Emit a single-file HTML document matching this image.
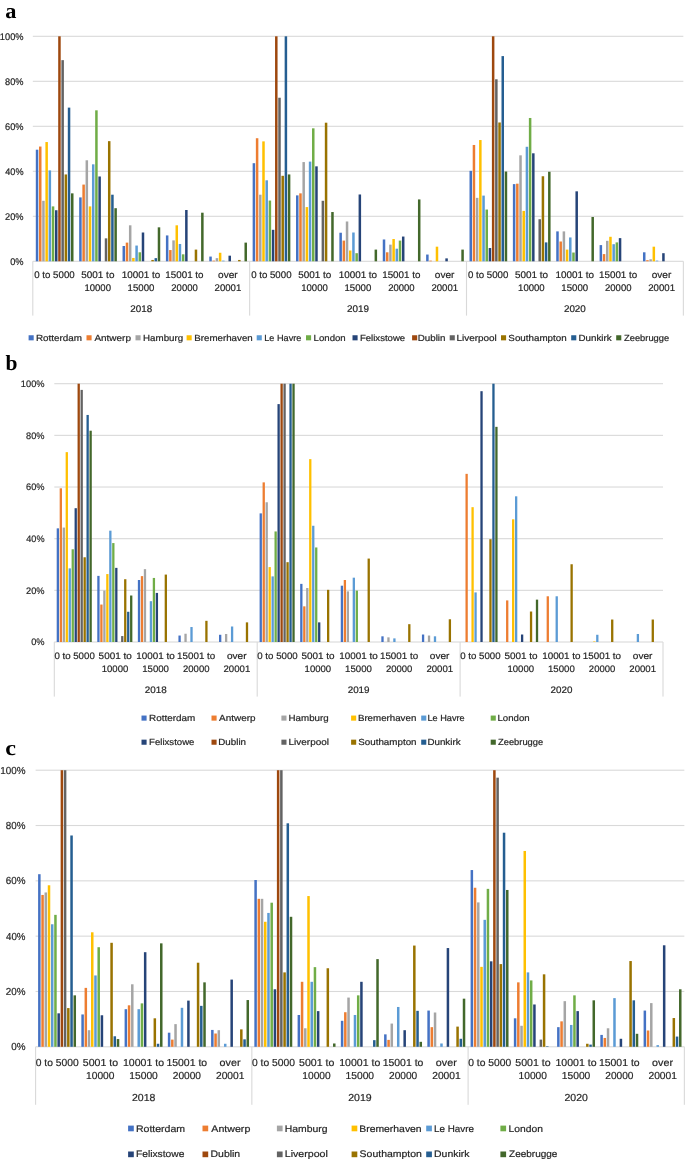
<!DOCTYPE html>
<html><head><meta charset="utf-8"><title>Port size distribution charts</title>
<style>
html,body{margin:0;padding:0;background:#fff;}
body{width:685px;height:1161px;overflow:hidden;font-family:"Liberation Sans",sans-serif;}
svg{display:block;text-rendering:geometricPrecision;transform:translateZ(0);will-change:transform;}
</style></head><body>
<svg width="685" height="1161" viewBox="0 0 685 1161" font-family="Liberation Sans, sans-serif">
<rect width="685" height="1161" fill="#fff"/>
<rect x="32.80" y="260.75" width="650.55" height="1.1" fill="#D9D9D9"/>
<text x="10.14" y="264.75" font-size="9.6" textLength="13.39" lengthAdjust="spacingAndGlyphs" fill="#262626" stroke="#262626" stroke-width="0.2">0%</text>
<rect x="32.80" y="215.75" width="650.55" height="1.1" fill="#D9D9D9"/>
<text x="5.04" y="219.75" font-size="9.6" textLength="18.49" lengthAdjust="spacingAndGlyphs" fill="#262626" stroke="#262626" stroke-width="0.2">20%</text>
<rect x="32.80" y="170.75" width="650.55" height="1.1" fill="#D9D9D9"/>
<text x="5.29" y="174.75" font-size="9.6" textLength="18.23" lengthAdjust="spacingAndGlyphs" fill="#262626" stroke="#262626" stroke-width="0.2">40%</text>
<rect x="32.80" y="125.75" width="650.55" height="1.1" fill="#D9D9D9"/>
<text x="5.03" y="129.75" font-size="9.6" textLength="18.50" lengthAdjust="spacingAndGlyphs" fill="#262626" stroke="#262626" stroke-width="0.2">60%</text>
<rect x="32.80" y="80.75" width="650.55" height="1.1" fill="#D9D9D9"/>
<text x="5.10" y="84.75" font-size="9.6" textLength="18.43" lengthAdjust="spacingAndGlyphs" fill="#262626" stroke="#262626" stroke-width="0.2">80%</text>
<rect x="32.80" y="35.75" width="650.55" height="1.1" fill="#D9D9D9"/>
<text x="-0.16" y="39.75" font-size="9.6" textLength="23.69" lengthAdjust="spacingAndGlyphs" fill="#262626" stroke="#262626" stroke-width="0.2">100%</text>
<rect x="35.80" y="149.70" width="2.5" height="111.60" fill="#4472C4"/>
<rect x="39.00" y="146.55" width="2.5" height="114.75" fill="#ED7D31"/>
<rect x="42.20" y="200.78" width="2.5" height="60.52" fill="#A5A5A5"/>
<rect x="45.40" y="142.05" width="2.5" height="119.25" fill="#FFC000"/>
<rect x="48.60" y="170.40" width="2.5" height="90.90" fill="#5B9BD5"/>
<rect x="51.80" y="206.40" width="2.5" height="54.90" fill="#70AD47"/>
<rect x="55.00" y="210.23" width="2.5" height="51.08" fill="#264478"/>
<rect x="58.20" y="36.30" width="2.5" height="225.00" fill="#9E480E"/>
<rect x="61.40" y="60.15" width="2.5" height="201.15" fill="#636363"/>
<rect x="64.60" y="174.45" width="2.5" height="86.85" fill="#997300"/>
<rect x="67.80" y="107.62" width="2.5" height="153.68" fill="#255E91"/>
<rect x="71.00" y="193.35" width="2.5" height="67.95" fill="#43682B"/>
<rect x="79.17" y="197.40" width="2.5" height="63.90" fill="#4472C4"/>
<rect x="82.37" y="184.58" width="2.5" height="76.72" fill="#ED7D31"/>
<rect x="85.57" y="160.28" width="2.5" height="101.03" fill="#A5A5A5"/>
<rect x="88.77" y="206.40" width="2.5" height="54.90" fill="#FFC000"/>
<rect x="91.97" y="164.33" width="2.5" height="96.97" fill="#5B9BD5"/>
<rect x="95.17" y="110.33" width="2.5" height="150.97" fill="#70AD47"/>
<rect x="98.37" y="176.48" width="2.5" height="84.83" fill="#264478"/>
<rect x="104.77" y="238.35" width="2.5" height="22.95" fill="#636363"/>
<rect x="107.97" y="141.15" width="2.5" height="120.15" fill="#997300"/>
<rect x="111.17" y="194.70" width="2.5" height="66.60" fill="#255E91"/>
<rect x="114.37" y="208.20" width="2.5" height="53.10" fill="#43682B"/>
<rect x="122.54" y="246.00" width="2.5" height="15.30" fill="#4472C4"/>
<rect x="125.74" y="242.62" width="2.5" height="18.68" fill="#ED7D31"/>
<rect x="128.94" y="225.30" width="2.5" height="36.00" fill="#A5A5A5"/>
<rect x="132.14" y="257.93" width="2.5" height="3.38" fill="#FFC000"/>
<rect x="135.34" y="245.55" width="2.5" height="15.75" fill="#5B9BD5"/>
<rect x="138.54" y="252.30" width="2.5" height="9.00" fill="#70AD47"/>
<rect x="141.74" y="232.50" width="2.5" height="28.80" fill="#264478"/>
<rect x="151.34" y="259.95" width="2.5" height="1.35" fill="#997300"/>
<rect x="154.54" y="258.15" width="2.5" height="3.15" fill="#255E91"/>
<rect x="157.74" y="227.33" width="2.5" height="33.98" fill="#43682B"/>
<rect x="165.91" y="235.43" width="2.5" height="25.88" fill="#4472C4"/>
<rect x="169.11" y="250.05" width="2.5" height="11.25" fill="#ED7D31"/>
<rect x="172.31" y="240.38" width="2.5" height="20.93" fill="#A5A5A5"/>
<rect x="175.51" y="225.30" width="2.5" height="36.00" fill="#FFC000"/>
<rect x="178.71" y="243.98" width="2.5" height="17.32" fill="#5B9BD5"/>
<rect x="181.91" y="254.33" width="2.5" height="6.97" fill="#70AD47"/>
<rect x="185.11" y="210.00" width="2.5" height="51.30" fill="#264478"/>
<rect x="194.71" y="249.60" width="2.5" height="11.70" fill="#997300"/>
<rect x="201.11" y="212.70" width="2.5" height="48.60" fill="#43682B"/>
<rect x="209.28" y="256.57" width="2.5" height="4.72" fill="#4472C4"/>
<rect x="212.48" y="260.62" width="2.5" height="0.68" fill="#ED7D31"/>
<rect x="215.68" y="258.15" width="2.5" height="3.15" fill="#A5A5A5"/>
<rect x="218.88" y="252.75" width="2.5" height="8.55" fill="#FFC000"/>
<rect x="222.08" y="260.62" width="2.5" height="0.68" fill="#5B9BD5"/>
<rect x="228.48" y="255.68" width="2.5" height="5.62" fill="#264478"/>
<rect x="238.08" y="259.95" width="2.5" height="1.35" fill="#997300"/>
<rect x="244.48" y="242.62" width="2.5" height="18.68" fill="#43682B"/>
<rect x="252.65" y="163.20" width="2.5" height="98.10" fill="#4472C4"/>
<rect x="255.85" y="138.23" width="2.5" height="123.08" fill="#ED7D31"/>
<rect x="259.05" y="194.70" width="2.5" height="66.60" fill="#A5A5A5"/>
<rect x="262.25" y="141.38" width="2.5" height="119.92" fill="#FFC000"/>
<rect x="265.45" y="180.30" width="2.5" height="81.00" fill="#5B9BD5"/>
<rect x="268.65" y="200.55" width="2.5" height="60.75" fill="#70AD47"/>
<rect x="271.85" y="229.80" width="2.5" height="31.50" fill="#264478"/>
<rect x="275.05" y="36.30" width="2.5" height="225.00" fill="#9E480E"/>
<rect x="278.25" y="97.73" width="2.5" height="163.57" fill="#636363"/>
<rect x="281.45" y="175.80" width="2.5" height="85.50" fill="#997300"/>
<rect x="284.65" y="36.30" width="2.5" height="225.00" fill="#255E91"/>
<rect x="287.85" y="174.45" width="2.5" height="86.85" fill="#43682B"/>
<rect x="296.02" y="195.38" width="2.5" height="65.92" fill="#4472C4"/>
<rect x="299.22" y="193.35" width="2.5" height="67.95" fill="#ED7D31"/>
<rect x="302.42" y="162.08" width="2.5" height="99.22" fill="#A5A5A5"/>
<rect x="305.62" y="207.08" width="2.5" height="54.23" fill="#FFC000"/>
<rect x="308.82" y="161.62" width="2.5" height="99.67" fill="#5B9BD5"/>
<rect x="312.02" y="128.33" width="2.5" height="132.97" fill="#70AD47"/>
<rect x="315.22" y="166.35" width="2.5" height="94.95" fill="#264478"/>
<rect x="321.62" y="200.78" width="2.5" height="60.52" fill="#636363"/>
<rect x="324.82" y="122.70" width="2.5" height="138.60" fill="#997300"/>
<rect x="331.22" y="212.03" width="2.5" height="49.27" fill="#43682B"/>
<rect x="339.39" y="232.73" width="2.5" height="28.57" fill="#4472C4"/>
<rect x="342.59" y="240.60" width="2.5" height="20.70" fill="#ED7D31"/>
<rect x="345.79" y="221.48" width="2.5" height="39.83" fill="#A5A5A5"/>
<rect x="348.99" y="250.50" width="2.5" height="10.80" fill="#FFC000"/>
<rect x="352.19" y="232.50" width="2.5" height="28.80" fill="#5B9BD5"/>
<rect x="355.39" y="253.20" width="2.5" height="8.10" fill="#70AD47"/>
<rect x="358.59" y="194.48" width="2.5" height="66.83" fill="#264478"/>
<rect x="374.59" y="249.60" width="2.5" height="11.70" fill="#43682B"/>
<rect x="382.76" y="239.48" width="2.5" height="21.82" fill="#4472C4"/>
<rect x="385.96" y="252.30" width="2.5" height="9.00" fill="#ED7D31"/>
<rect x="389.16" y="244.65" width="2.5" height="16.65" fill="#A5A5A5"/>
<rect x="392.36" y="239.03" width="2.5" height="22.27" fill="#FFC000"/>
<rect x="395.56" y="248.70" width="2.5" height="12.60" fill="#5B9BD5"/>
<rect x="398.76" y="240.60" width="2.5" height="20.70" fill="#70AD47"/>
<rect x="401.96" y="236.55" width="2.5" height="24.75" fill="#264478"/>
<rect x="417.96" y="199.43" width="2.5" height="61.88" fill="#43682B"/>
<rect x="426.13" y="254.55" width="2.5" height="6.75" fill="#4472C4"/>
<rect x="429.33" y="260.62" width="2.5" height="0.68" fill="#ED7D31"/>
<rect x="435.73" y="246.68" width="2.5" height="14.62" fill="#FFC000"/>
<rect x="445.33" y="258.38" width="2.5" height="2.92" fill="#264478"/>
<rect x="461.33" y="249.60" width="2.5" height="11.70" fill="#43682B"/>
<rect x="469.50" y="170.85" width="2.5" height="90.45" fill="#4472C4"/>
<rect x="472.70" y="144.98" width="2.5" height="116.33" fill="#ED7D31"/>
<rect x="475.90" y="197.85" width="2.5" height="63.45" fill="#A5A5A5"/>
<rect x="479.10" y="140.03" width="2.5" height="121.28" fill="#FFC000"/>
<rect x="482.30" y="195.60" width="2.5" height="65.70" fill="#5B9BD5"/>
<rect x="485.50" y="209.55" width="2.5" height="51.75" fill="#70AD47"/>
<rect x="488.70" y="248.03" width="2.5" height="13.28" fill="#264478"/>
<rect x="491.90" y="36.30" width="2.5" height="225.00" fill="#9E480E"/>
<rect x="495.10" y="79.28" width="2.5" height="182.03" fill="#636363"/>
<rect x="498.30" y="122.48" width="2.5" height="138.82" fill="#997300"/>
<rect x="501.50" y="56.10" width="2.5" height="205.20" fill="#255E91"/>
<rect x="504.70" y="171.53" width="2.5" height="89.78" fill="#43682B"/>
<rect x="512.87" y="184.12" width="2.5" height="77.17" fill="#4472C4"/>
<rect x="516.07" y="183.68" width="2.5" height="77.62" fill="#ED7D31"/>
<rect x="519.27" y="155.33" width="2.5" height="105.97" fill="#A5A5A5"/>
<rect x="522.47" y="210.90" width="2.5" height="50.40" fill="#FFC000"/>
<rect x="525.67" y="146.78" width="2.5" height="114.53" fill="#5B9BD5"/>
<rect x="528.87" y="117.98" width="2.5" height="143.32" fill="#70AD47"/>
<rect x="532.07" y="153.30" width="2.5" height="108.00" fill="#264478"/>
<rect x="538.47" y="219.23" width="2.5" height="42.08" fill="#636363"/>
<rect x="541.67" y="176.25" width="2.5" height="85.05" fill="#997300"/>
<rect x="544.87" y="242.40" width="2.5" height="18.90" fill="#255E91"/>
<rect x="548.07" y="171.75" width="2.5" height="89.55" fill="#43682B"/>
<rect x="556.24" y="231.38" width="2.5" height="29.93" fill="#4472C4"/>
<rect x="559.44" y="241.50" width="2.5" height="19.80" fill="#ED7D31"/>
<rect x="562.64" y="231.38" width="2.5" height="29.93" fill="#A5A5A5"/>
<rect x="565.84" y="249.60" width="2.5" height="11.70" fill="#FFC000"/>
<rect x="569.04" y="237.45" width="2.5" height="23.85" fill="#5B9BD5"/>
<rect x="572.24" y="252.53" width="2.5" height="8.78" fill="#70AD47"/>
<rect x="575.44" y="191.33" width="2.5" height="69.97" fill="#264478"/>
<rect x="591.44" y="216.98" width="2.5" height="44.33" fill="#43682B"/>
<rect x="599.61" y="245.10" width="2.5" height="16.20" fill="#4472C4"/>
<rect x="602.81" y="254.10" width="2.5" height="7.20" fill="#ED7D31"/>
<rect x="606.01" y="240.83" width="2.5" height="20.48" fill="#A5A5A5"/>
<rect x="609.21" y="236.78" width="2.5" height="24.52" fill="#FFC000"/>
<rect x="612.41" y="244.20" width="2.5" height="17.10" fill="#5B9BD5"/>
<rect x="615.61" y="242.40" width="2.5" height="18.90" fill="#70AD47"/>
<rect x="618.81" y="238.12" width="2.5" height="23.18" fill="#264478"/>
<rect x="642.98" y="252.30" width="2.5" height="9.00" fill="#4472C4"/>
<rect x="646.18" y="260.18" width="2.5" height="1.12" fill="#ED7D31"/>
<rect x="649.38" y="259.28" width="2.5" height="2.02" fill="#A5A5A5"/>
<rect x="652.58" y="246.68" width="2.5" height="14.62" fill="#FFC000"/>
<rect x="655.78" y="260.62" width="2.5" height="0.68" fill="#5B9BD5"/>
<rect x="662.18" y="253.20" width="2.5" height="8.10" fill="#264478"/>
<rect x="32.25" y="261.30" width="1.1" height="54.30" fill="#D9D9D9"/>
<rect x="249.10" y="261.30" width="1.1" height="54.30" fill="#D9D9D9"/>
<rect x="465.95" y="261.30" width="1.1" height="54.30" fill="#D9D9D9"/>
<rect x="682.80" y="261.30" width="1.1" height="54.30" fill="#D9D9D9"/>
<text x="34.31" y="278.15" font-size="9.6" textLength="40.36" lengthAdjust="spacingAndGlyphs" fill="#262626" stroke="#262626" stroke-width="0.2">0 to 5000</text>
<text x="81.31" y="278.15" font-size="9.6" textLength="33.11" lengthAdjust="spacingAndGlyphs" fill="#262626" stroke="#262626" stroke-width="0.2">5001 to</text>
<text x="84.38" y="290.90" font-size="9.6" textLength="26.60" lengthAdjust="spacingAndGlyphs" fill="#262626" stroke="#262626" stroke-width="0.2">10000</text>
<text x="121.82" y="278.15" font-size="9.6" textLength="38.47" lengthAdjust="spacingAndGlyphs" fill="#262626" stroke="#262626" stroke-width="0.2">10001 to</text>
<text x="127.64" y="290.90" font-size="9.6" textLength="26.81" lengthAdjust="spacingAndGlyphs" fill="#262626" stroke="#262626" stroke-width="0.2">15000</text>
<text x="165.35" y="278.15" font-size="9.6" textLength="38.16" lengthAdjust="spacingAndGlyphs" fill="#262626" stroke="#262626" stroke-width="0.2">15001 to</text>
<text x="171.32" y="290.90" font-size="9.6" textLength="26.45" lengthAdjust="spacingAndGlyphs" fill="#262626" stroke="#262626" stroke-width="0.2">20000</text>
<text x="218.04" y="278.15" font-size="9.6" textLength="19.59" lengthAdjust="spacingAndGlyphs" fill="#262626" stroke="#262626" stroke-width="0.2">over</text>
<text x="214.58" y="290.90" font-size="9.6" textLength="26.75" lengthAdjust="spacingAndGlyphs" fill="#262626" stroke="#262626" stroke-width="0.2">20001</text>
<text x="251.16" y="278.15" font-size="9.6" textLength="40.36" lengthAdjust="spacingAndGlyphs" fill="#262626" stroke="#262626" stroke-width="0.2">0 to 5000</text>
<text x="298.16" y="278.15" font-size="9.6" textLength="33.11" lengthAdjust="spacingAndGlyphs" fill="#262626" stroke="#262626" stroke-width="0.2">5001 to</text>
<text x="301.23" y="290.90" font-size="9.6" textLength="26.60" lengthAdjust="spacingAndGlyphs" fill="#262626" stroke="#262626" stroke-width="0.2">10000</text>
<text x="338.67" y="278.15" font-size="9.6" textLength="38.47" lengthAdjust="spacingAndGlyphs" fill="#262626" stroke="#262626" stroke-width="0.2">10001 to</text>
<text x="344.49" y="290.90" font-size="9.6" textLength="26.81" lengthAdjust="spacingAndGlyphs" fill="#262626" stroke="#262626" stroke-width="0.2">15000</text>
<text x="382.20" y="278.15" font-size="9.6" textLength="38.16" lengthAdjust="spacingAndGlyphs" fill="#262626" stroke="#262626" stroke-width="0.2">15001 to</text>
<text x="388.17" y="290.90" font-size="9.6" textLength="26.45" lengthAdjust="spacingAndGlyphs" fill="#262626" stroke="#262626" stroke-width="0.2">20000</text>
<text x="434.89" y="278.15" font-size="9.6" textLength="19.59" lengthAdjust="spacingAndGlyphs" fill="#262626" stroke="#262626" stroke-width="0.2">over</text>
<text x="431.43" y="290.90" font-size="9.6" textLength="26.75" lengthAdjust="spacingAndGlyphs" fill="#262626" stroke="#262626" stroke-width="0.2">20001</text>
<text x="468.01" y="278.15" font-size="9.6" textLength="40.36" lengthAdjust="spacingAndGlyphs" fill="#262626" stroke="#262626" stroke-width="0.2">0 to 5000</text>
<text x="515.01" y="278.15" font-size="9.6" textLength="33.11" lengthAdjust="spacingAndGlyphs" fill="#262626" stroke="#262626" stroke-width="0.2">5001 to</text>
<text x="518.08" y="290.90" font-size="9.6" textLength="26.60" lengthAdjust="spacingAndGlyphs" fill="#262626" stroke="#262626" stroke-width="0.2">10000</text>
<text x="555.52" y="278.15" font-size="9.6" textLength="38.47" lengthAdjust="spacingAndGlyphs" fill="#262626" stroke="#262626" stroke-width="0.2">10001 to</text>
<text x="561.34" y="290.90" font-size="9.6" textLength="26.81" lengthAdjust="spacingAndGlyphs" fill="#262626" stroke="#262626" stroke-width="0.2">15000</text>
<text x="599.05" y="278.15" font-size="9.6" textLength="38.16" lengthAdjust="spacingAndGlyphs" fill="#262626" stroke="#262626" stroke-width="0.2">15001 to</text>
<text x="605.02" y="290.90" font-size="9.6" textLength="26.45" lengthAdjust="spacingAndGlyphs" fill="#262626" stroke="#262626" stroke-width="0.2">20000</text>
<text x="651.74" y="278.15" font-size="9.6" textLength="19.59" lengthAdjust="spacingAndGlyphs" fill="#262626" stroke="#262626" stroke-width="0.2">over</text>
<text x="648.28" y="290.90" font-size="9.6" textLength="26.75" lengthAdjust="spacingAndGlyphs" fill="#262626" stroke="#262626" stroke-width="0.2">20001</text>
<text x="130.23" y="311.90" font-size="9.6" textLength="21.92" lengthAdjust="spacingAndGlyphs" fill="#262626" stroke="#262626" stroke-width="0.2">2018</text>
<text x="347.08" y="311.90" font-size="9.6" textLength="21.96" lengthAdjust="spacingAndGlyphs" fill="#262626" stroke="#262626" stroke-width="0.2">2019</text>
<text x="563.93" y="311.90" font-size="9.6" textLength="21.88" lengthAdjust="spacingAndGlyphs" fill="#262626" stroke="#262626" stroke-width="0.2">2020</text>
<rect x="28.60" y="335.25" width="5.1" height="5.1" fill="#4472C4"/>
<text x="35.99" y="340.66" font-size="8.9" textLength="46.06" lengthAdjust="spacingAndGlyphs" fill="#262626" stroke="#262626" stroke-width="0.2">Rotterdam</text>
<rect x="86.50" y="335.25" width="5.1" height="5.1" fill="#ED7D31"/>
<text x="94.48" y="340.66" font-size="8.9" textLength="36.44" lengthAdjust="spacingAndGlyphs" fill="#262626" stroke="#262626" stroke-width="0.2">Antwerp</text>
<rect x="135.50" y="335.25" width="5.1" height="5.1" fill="#A5A5A5"/>
<text x="143.10" y="340.66" font-size="8.9" textLength="40.03" lengthAdjust="spacingAndGlyphs" fill="#262626" stroke="#262626" stroke-width="0.2">Hamburg</text>
<rect x="186.60" y="335.25" width="5.1" height="5.1" fill="#FFC000"/>
<text x="194.30" y="340.66" font-size="8.9" textLength="58.43" lengthAdjust="spacingAndGlyphs" fill="#262626" stroke="#262626" stroke-width="0.2">Bremerhaven</text>
<rect x="256.70" y="335.25" width="5.1" height="5.1" fill="#5B9BD5"/>
<text x="264.15" y="340.66" font-size="8.9" textLength="37.26" lengthAdjust="spacingAndGlyphs" fill="#262626" stroke="#262626" stroke-width="0.2">Le Havre</text>
<rect x="306.00" y="335.25" width="5.1" height="5.1" fill="#70AD47"/>
<text x="313.61" y="340.66" font-size="8.9" textLength="32.11" lengthAdjust="spacingAndGlyphs" fill="#262626" stroke="#262626" stroke-width="0.2">London</text>
<rect x="352.50" y="335.25" width="5.1" height="5.1" fill="#264478"/>
<text x="359.91" y="340.66" font-size="8.9" textLength="45.31" lengthAdjust="spacingAndGlyphs" fill="#262626" stroke="#262626" stroke-width="0.2">Felixstowe</text>
<rect x="412.10" y="335.25" width="5.1" height="5.1" fill="#9E480E"/>
<text x="417.70" y="340.66" font-size="8.9" textLength="27.74" lengthAdjust="spacingAndGlyphs" fill="#262626" stroke="#262626" stroke-width="0.2">Dublin</text>
<rect x="449.70" y="335.25" width="5.1" height="5.1" fill="#636363"/>
<text x="456.48" y="340.66" font-size="8.9" textLength="40.38" lengthAdjust="spacingAndGlyphs" fill="#262626" stroke="#262626" stroke-width="0.2">Liverpool</text>
<rect x="501.00" y="335.25" width="5.1" height="5.1" fill="#997300"/>
<text x="508.36" y="340.66" font-size="8.9" textLength="58.28" lengthAdjust="spacingAndGlyphs" fill="#262626" stroke="#262626" stroke-width="0.2">Southampton</text>
<rect x="571.20" y="335.25" width="5.1" height="5.1" fill="#255E91"/>
<text x="578.50" y="340.66" font-size="8.9" textLength="33.19" lengthAdjust="spacingAndGlyphs" fill="#262626" stroke="#262626" stroke-width="0.2">Dunkirk</text>
<rect x="616.20" y="335.25" width="5.1" height="5.1" fill="#43682B"/>
<text x="624.00" y="340.66" font-size="8.9" textLength="45.21" lengthAdjust="spacingAndGlyphs" fill="#262626" stroke="#262626" stroke-width="0.2">Zeebrugge</text>
<rect x="54.30" y="641.45" width="608.70" height="1.1" fill="#D9D9D9"/>
<text x="31.14" y="645.40" font-size="9.45" textLength="13.39" lengthAdjust="spacingAndGlyphs" fill="#262626" stroke="#262626" stroke-width="0.2">0%</text>
<rect x="54.30" y="589.79" width="608.70" height="1.1" fill="#D9D9D9"/>
<text x="26.04" y="593.74" font-size="9.45" textLength="18.49" lengthAdjust="spacingAndGlyphs" fill="#262626" stroke="#262626" stroke-width="0.2">20%</text>
<rect x="54.30" y="538.13" width="608.70" height="1.1" fill="#D9D9D9"/>
<text x="26.29" y="542.08" font-size="9.45" textLength="18.23" lengthAdjust="spacingAndGlyphs" fill="#262626" stroke="#262626" stroke-width="0.2">40%</text>
<rect x="54.30" y="486.47" width="608.70" height="1.1" fill="#D9D9D9"/>
<text x="26.03" y="490.42" font-size="9.45" textLength="18.50" lengthAdjust="spacingAndGlyphs" fill="#262626" stroke="#262626" stroke-width="0.2">60%</text>
<rect x="54.30" y="434.81" width="608.70" height="1.1" fill="#D9D9D9"/>
<text x="26.10" y="438.76" font-size="9.45" textLength="18.43" lengthAdjust="spacingAndGlyphs" fill="#262626" stroke="#262626" stroke-width="0.2">80%</text>
<rect x="54.30" y="383.15" width="608.70" height="1.1" fill="#D9D9D9"/>
<text x="20.84" y="387.10" font-size="9.45" textLength="23.69" lengthAdjust="spacingAndGlyphs" fill="#262626" stroke="#262626" stroke-width="0.2">100%</text>
<rect x="56.70" y="528.35" width="2.3" height="113.65" fill="#4472C4"/>
<rect x="59.68" y="488.31" width="2.3" height="153.69" fill="#ED7D31"/>
<rect x="62.66" y="527.57" width="2.3" height="114.43" fill="#A5A5A5"/>
<rect x="65.64" y="452.15" width="2.3" height="189.85" fill="#FFC000"/>
<rect x="68.62" y="568.38" width="2.3" height="73.62" fill="#5B9BD5"/>
<rect x="71.60" y="549.27" width="2.3" height="92.73" fill="#70AD47"/>
<rect x="74.58" y="508.20" width="2.3" height="133.80" fill="#264478"/>
<rect x="77.56" y="383.70" width="2.3" height="258.30" fill="#9E480E"/>
<rect x="80.54" y="389.90" width="2.3" height="252.10" fill="#636363"/>
<rect x="83.52" y="557.28" width="2.3" height="84.72" fill="#997300"/>
<rect x="86.50" y="414.95" width="2.3" height="227.05" fill="#255E91"/>
<rect x="89.48" y="430.71" width="2.3" height="211.29" fill="#43682B"/>
<rect x="97.28" y="575.88" width="2.3" height="66.12" fill="#4472C4"/>
<rect x="100.26" y="604.55" width="2.3" height="37.45" fill="#ED7D31"/>
<rect x="103.24" y="590.60" width="2.3" height="51.40" fill="#A5A5A5"/>
<rect x="106.22" y="574.07" width="2.3" height="67.93" fill="#FFC000"/>
<rect x="109.20" y="530.67" width="2.3" height="111.33" fill="#5B9BD5"/>
<rect x="112.18" y="543.07" width="2.3" height="98.93" fill="#70AD47"/>
<rect x="115.16" y="567.87" width="2.3" height="74.13" fill="#264478"/>
<rect x="121.12" y="636.06" width="2.3" height="5.94" fill="#636363"/>
<rect x="124.10" y="579.23" width="2.3" height="62.77" fill="#997300"/>
<rect x="127.08" y="611.78" width="2.3" height="30.22" fill="#255E91"/>
<rect x="130.06" y="595.51" width="2.3" height="46.49" fill="#43682B"/>
<rect x="137.86" y="580.01" width="2.3" height="61.99" fill="#4472C4"/>
<rect x="140.84" y="576.13" width="2.3" height="65.87" fill="#ED7D31"/>
<rect x="143.82" y="569.16" width="2.3" height="72.84" fill="#A5A5A5"/>
<rect x="149.78" y="601.19" width="2.3" height="40.81" fill="#5B9BD5"/>
<rect x="152.76" y="577.94" width="2.3" height="64.06" fill="#70AD47"/>
<rect x="155.74" y="592.92" width="2.3" height="49.08" fill="#264478"/>
<rect x="164.68" y="574.58" width="2.3" height="67.42" fill="#997300"/>
<rect x="178.44" y="635.54" width="2.3" height="6.46" fill="#4472C4"/>
<rect x="184.40" y="633.73" width="2.3" height="8.27" fill="#A5A5A5"/>
<rect x="190.36" y="627.02" width="2.3" height="14.98" fill="#5B9BD5"/>
<rect x="205.26" y="620.82" width="2.3" height="21.18" fill="#997300"/>
<rect x="219.02" y="634.77" width="2.3" height="7.23" fill="#4472C4"/>
<rect x="224.98" y="633.99" width="2.3" height="8.01" fill="#A5A5A5"/>
<rect x="230.94" y="626.50" width="2.3" height="15.50" fill="#5B9BD5"/>
<rect x="245.84" y="622.37" width="2.3" height="19.63" fill="#997300"/>
<rect x="259.60" y="513.37" width="2.3" height="128.63" fill="#4472C4"/>
<rect x="262.58" y="482.37" width="2.3" height="159.63" fill="#ED7D31"/>
<rect x="265.56" y="502.26" width="2.3" height="139.74" fill="#A5A5A5"/>
<rect x="268.54" y="567.09" width="2.3" height="74.91" fill="#FFC000"/>
<rect x="271.52" y="576.39" width="2.3" height="65.61" fill="#5B9BD5"/>
<rect x="274.50" y="531.45" width="2.3" height="110.55" fill="#70AD47"/>
<rect x="277.48" y="404.11" width="2.3" height="237.89" fill="#264478"/>
<rect x="280.46" y="383.70" width="2.3" height="258.30" fill="#9E480E"/>
<rect x="283.44" y="383.70" width="2.3" height="258.30" fill="#636363"/>
<rect x="286.42" y="562.19" width="2.3" height="79.81" fill="#997300"/>
<rect x="289.40" y="383.70" width="2.3" height="258.30" fill="#255E91"/>
<rect x="292.38" y="383.70" width="2.3" height="258.30" fill="#43682B"/>
<rect x="300.18" y="583.88" width="2.3" height="58.12" fill="#4472C4"/>
<rect x="303.16" y="606.35" width="2.3" height="35.65" fill="#ED7D31"/>
<rect x="306.14" y="588.02" width="2.3" height="53.98" fill="#A5A5A5"/>
<rect x="309.12" y="459.12" width="2.3" height="182.88" fill="#FFC000"/>
<rect x="312.10" y="525.76" width="2.3" height="116.23" fill="#5B9BD5"/>
<rect x="315.08" y="547.46" width="2.3" height="94.54" fill="#70AD47"/>
<rect x="318.06" y="622.37" width="2.3" height="19.63" fill="#264478"/>
<rect x="327.00" y="589.82" width="2.3" height="52.18" fill="#997300"/>
<rect x="340.76" y="585.69" width="2.3" height="56.31" fill="#4472C4"/>
<rect x="343.74" y="580.01" width="2.3" height="61.99" fill="#ED7D31"/>
<rect x="346.72" y="591.37" width="2.3" height="50.63" fill="#A5A5A5"/>
<rect x="352.68" y="577.68" width="2.3" height="64.32" fill="#5B9BD5"/>
<rect x="355.66" y="590.60" width="2.3" height="51.40" fill="#70AD47"/>
<rect x="367.58" y="558.57" width="2.3" height="83.43" fill="#997300"/>
<rect x="381.34" y="636.32" width="2.3" height="5.68" fill="#4472C4"/>
<rect x="387.30" y="637.35" width="2.3" height="4.65" fill="#A5A5A5"/>
<rect x="393.26" y="638.38" width="2.3" height="3.62" fill="#5B9BD5"/>
<rect x="408.16" y="624.18" width="2.3" height="17.82" fill="#997300"/>
<rect x="421.92" y="634.51" width="2.3" height="7.49" fill="#4472C4"/>
<rect x="427.88" y="635.54" width="2.3" height="6.46" fill="#A5A5A5"/>
<rect x="433.84" y="636.32" width="2.3" height="5.68" fill="#5B9BD5"/>
<rect x="448.74" y="619.27" width="2.3" height="22.73" fill="#997300"/>
<rect x="465.48" y="473.85" width="2.3" height="168.15" fill="#ED7D31"/>
<rect x="471.44" y="507.17" width="2.3" height="134.83" fill="#FFC000"/>
<rect x="474.42" y="592.41" width="2.3" height="49.59" fill="#5B9BD5"/>
<rect x="480.38" y="391.19" width="2.3" height="250.81" fill="#264478"/>
<rect x="489.32" y="539.20" width="2.3" height="102.80" fill="#997300"/>
<rect x="492.30" y="383.70" width="2.3" height="258.30" fill="#255E91"/>
<rect x="495.28" y="426.84" width="2.3" height="215.16" fill="#43682B"/>
<rect x="506.06" y="600.41" width="2.3" height="41.59" fill="#ED7D31"/>
<rect x="512.02" y="519.31" width="2.3" height="122.69" fill="#FFC000"/>
<rect x="515.00" y="496.32" width="2.3" height="145.68" fill="#5B9BD5"/>
<rect x="520.96" y="634.51" width="2.3" height="7.49" fill="#264478"/>
<rect x="529.90" y="611.52" width="2.3" height="30.48" fill="#997300"/>
<rect x="535.86" y="599.64" width="2.3" height="42.36" fill="#43682B"/>
<rect x="546.64" y="596.28" width="2.3" height="45.72" fill="#ED7D31"/>
<rect x="555.58" y="596.28" width="2.3" height="45.72" fill="#5B9BD5"/>
<rect x="570.48" y="564.25" width="2.3" height="77.75" fill="#997300"/>
<rect x="593.18" y="641.48" width="2.3" height="0.52" fill="#FFC000"/>
<rect x="596.16" y="634.77" width="2.3" height="7.23" fill="#5B9BD5"/>
<rect x="611.06" y="619.53" width="2.3" height="22.47" fill="#997300"/>
<rect x="636.74" y="633.99" width="2.3" height="8.01" fill="#5B9BD5"/>
<rect x="651.64" y="619.53" width="2.3" height="22.47" fill="#997300"/>
<rect x="53.75" y="642.00" width="1.1" height="54.60" fill="#D9D9D9"/>
<rect x="256.65" y="642.00" width="1.1" height="54.60" fill="#D9D9D9"/>
<rect x="459.55" y="642.00" width="1.1" height="54.60" fill="#D9D9D9"/>
<rect x="662.45" y="642.00" width="1.1" height="54.60" fill="#D9D9D9"/>
<text x="54.41" y="658.65" font-size="9.45" textLength="40.36" lengthAdjust="spacingAndGlyphs" fill="#262626" stroke="#262626" stroke-width="0.2">0 to 5000</text>
<text x="98.62" y="658.65" font-size="9.45" textLength="33.11" lengthAdjust="spacingAndGlyphs" fill="#262626" stroke="#262626" stroke-width="0.2">5001 to</text>
<text x="101.69" y="671.50" font-size="9.45" textLength="26.60" lengthAdjust="spacingAndGlyphs" fill="#262626" stroke="#262626" stroke-width="0.2">10000</text>
<text x="136.35" y="658.65" font-size="9.45" textLength="38.47" lengthAdjust="spacingAndGlyphs" fill="#262626" stroke="#262626" stroke-width="0.2">10001 to</text>
<text x="142.17" y="671.50" font-size="9.45" textLength="26.81" lengthAdjust="spacingAndGlyphs" fill="#262626" stroke="#262626" stroke-width="0.2">15000</text>
<text x="177.08" y="658.65" font-size="9.45" textLength="38.16" lengthAdjust="spacingAndGlyphs" fill="#262626" stroke="#262626" stroke-width="0.2">15001 to</text>
<text x="183.05" y="671.50" font-size="9.45" textLength="26.45" lengthAdjust="spacingAndGlyphs" fill="#262626" stroke="#262626" stroke-width="0.2">20000</text>
<text x="226.99" y="658.65" font-size="9.45" textLength="19.59" lengthAdjust="spacingAndGlyphs" fill="#262626" stroke="#262626" stroke-width="0.2">over</text>
<text x="223.53" y="671.50" font-size="9.45" textLength="26.75" lengthAdjust="spacingAndGlyphs" fill="#262626" stroke="#262626" stroke-width="0.2">20001</text>
<text x="257.31" y="658.65" font-size="9.45" textLength="40.36" lengthAdjust="spacingAndGlyphs" fill="#262626" stroke="#262626" stroke-width="0.2">0 to 5000</text>
<text x="301.52" y="658.65" font-size="9.45" textLength="33.11" lengthAdjust="spacingAndGlyphs" fill="#262626" stroke="#262626" stroke-width="0.2">5001 to</text>
<text x="304.59" y="671.50" font-size="9.45" textLength="26.60" lengthAdjust="spacingAndGlyphs" fill="#262626" stroke="#262626" stroke-width="0.2">10000</text>
<text x="339.25" y="658.65" font-size="9.45" textLength="38.47" lengthAdjust="spacingAndGlyphs" fill="#262626" stroke="#262626" stroke-width="0.2">10001 to</text>
<text x="345.07" y="671.50" font-size="9.45" textLength="26.81" lengthAdjust="spacingAndGlyphs" fill="#262626" stroke="#262626" stroke-width="0.2">15000</text>
<text x="379.98" y="658.65" font-size="9.45" textLength="38.16" lengthAdjust="spacingAndGlyphs" fill="#262626" stroke="#262626" stroke-width="0.2">15001 to</text>
<text x="385.95" y="671.50" font-size="9.45" textLength="26.45" lengthAdjust="spacingAndGlyphs" fill="#262626" stroke="#262626" stroke-width="0.2">20000</text>
<text x="429.89" y="658.65" font-size="9.45" textLength="19.59" lengthAdjust="spacingAndGlyphs" fill="#262626" stroke="#262626" stroke-width="0.2">over</text>
<text x="426.43" y="671.50" font-size="9.45" textLength="26.75" lengthAdjust="spacingAndGlyphs" fill="#262626" stroke="#262626" stroke-width="0.2">20001</text>
<text x="460.21" y="658.65" font-size="9.45" textLength="40.36" lengthAdjust="spacingAndGlyphs" fill="#262626" stroke="#262626" stroke-width="0.2">0 to 5000</text>
<text x="504.42" y="658.65" font-size="9.45" textLength="33.11" lengthAdjust="spacingAndGlyphs" fill="#262626" stroke="#262626" stroke-width="0.2">5001 to</text>
<text x="507.49" y="671.50" font-size="9.45" textLength="26.60" lengthAdjust="spacingAndGlyphs" fill="#262626" stroke="#262626" stroke-width="0.2">10000</text>
<text x="542.15" y="658.65" font-size="9.45" textLength="38.47" lengthAdjust="spacingAndGlyphs" fill="#262626" stroke="#262626" stroke-width="0.2">10001 to</text>
<text x="547.97" y="671.50" font-size="9.45" textLength="26.81" lengthAdjust="spacingAndGlyphs" fill="#262626" stroke="#262626" stroke-width="0.2">15000</text>
<text x="582.88" y="658.65" font-size="9.45" textLength="38.16" lengthAdjust="spacingAndGlyphs" fill="#262626" stroke="#262626" stroke-width="0.2">15001 to</text>
<text x="588.85" y="671.50" font-size="9.45" textLength="26.45" lengthAdjust="spacingAndGlyphs" fill="#262626" stroke="#262626" stroke-width="0.2">20000</text>
<text x="632.79" y="658.65" font-size="9.45" textLength="19.59" lengthAdjust="spacingAndGlyphs" fill="#262626" stroke="#262626" stroke-width="0.2">over</text>
<text x="629.33" y="671.50" font-size="9.45" textLength="26.75" lengthAdjust="spacingAndGlyphs" fill="#262626" stroke="#262626" stroke-width="0.2">20001</text>
<text x="144.75" y="692.55" font-size="9.45" textLength="21.92" lengthAdjust="spacingAndGlyphs" fill="#262626" stroke="#262626" stroke-width="0.2">2018</text>
<text x="347.65" y="692.55" font-size="9.45" textLength="21.96" lengthAdjust="spacingAndGlyphs" fill="#262626" stroke="#262626" stroke-width="0.2">2019</text>
<text x="550.56" y="692.55" font-size="9.45" textLength="21.88" lengthAdjust="spacingAndGlyphs" fill="#262626" stroke="#262626" stroke-width="0.2">2020</text>
<rect x="141.50" y="715.55" width="5.1" height="5.1" fill="#4472C4"/>
<text x="149.09" y="720.96" font-size="8.9" textLength="46.06" lengthAdjust="spacingAndGlyphs" fill="#262626" stroke="#262626" stroke-width="0.2">Rotterdam</text>
<rect x="211.50" y="715.55" width="5.1" height="5.1" fill="#ED7D31"/>
<text x="219.08" y="720.96" font-size="8.9" textLength="36.44" lengthAdjust="spacingAndGlyphs" fill="#262626" stroke="#262626" stroke-width="0.2">Antwerp</text>
<rect x="281.40" y="715.55" width="5.1" height="5.1" fill="#A5A5A5"/>
<text x="288.60" y="720.96" font-size="8.9" textLength="40.03" lengthAdjust="spacingAndGlyphs" fill="#262626" stroke="#262626" stroke-width="0.2">Hamburg</text>
<rect x="351.10" y="715.55" width="5.1" height="5.1" fill="#FFC000"/>
<text x="357.90" y="720.96" font-size="8.9" textLength="58.43" lengthAdjust="spacingAndGlyphs" fill="#262626" stroke="#262626" stroke-width="0.2">Bremerhaven</text>
<rect x="421.20" y="715.55" width="5.1" height="5.1" fill="#5B9BD5"/>
<text x="427.45" y="720.96" font-size="8.9" textLength="37.26" lengthAdjust="spacingAndGlyphs" fill="#262626" stroke="#262626" stroke-width="0.2">Le Havre</text>
<rect x="490.70" y="715.55" width="5.1" height="5.1" fill="#70AD47"/>
<text x="497.51" y="720.96" font-size="8.9" textLength="32.11" lengthAdjust="spacingAndGlyphs" fill="#262626" stroke="#262626" stroke-width="0.2">London</text>
<rect x="141.50" y="739.65" width="5.1" height="5.1" fill="#264478"/>
<text x="149.11" y="745.06" font-size="8.9" textLength="45.31" lengthAdjust="spacingAndGlyphs" fill="#262626" stroke="#262626" stroke-width="0.2">Felixstowe</text>
<rect x="211.50" y="739.65" width="5.1" height="5.1" fill="#9E480E"/>
<text x="218.30" y="745.06" font-size="8.9" textLength="27.74" lengthAdjust="spacingAndGlyphs" fill="#262626" stroke="#262626" stroke-width="0.2">Dublin</text>
<rect x="281.40" y="739.65" width="5.1" height="5.1" fill="#636363"/>
<text x="288.58" y="745.06" font-size="8.9" textLength="40.38" lengthAdjust="spacingAndGlyphs" fill="#262626" stroke="#262626" stroke-width="0.2">Liverpool</text>
<rect x="351.10" y="739.65" width="5.1" height="5.1" fill="#997300"/>
<text x="358.26" y="745.06" font-size="8.9" textLength="58.28" lengthAdjust="spacingAndGlyphs" fill="#262626" stroke="#262626" stroke-width="0.2">Southampton</text>
<rect x="421.20" y="739.65" width="5.1" height="5.1" fill="#255E91"/>
<text x="427.40" y="745.06" font-size="8.9" textLength="33.19" lengthAdjust="spacingAndGlyphs" fill="#262626" stroke="#262626" stroke-width="0.2">Dunkirk</text>
<rect x="490.70" y="739.65" width="5.1" height="5.1" fill="#43682B"/>
<text x="498.00" y="745.06" font-size="8.9" textLength="45.21" lengthAdjust="spacingAndGlyphs" fill="#262626" stroke="#262626" stroke-width="0.2">Zeebrugge</text>
<rect x="35.60" y="1046.25" width="648.75" height="1.1" fill="#D9D9D9"/>
<text x="11.15" y="1050.21" font-size="10.2" textLength="14.30" lengthAdjust="spacingAndGlyphs" fill="#262626" stroke="#262626" stroke-width="0.2">0%</text>
<rect x="35.60" y="990.93" width="648.75" height="1.1" fill="#D9D9D9"/>
<text x="5.70" y="994.89" font-size="10.2" textLength="19.75" lengthAdjust="spacingAndGlyphs" fill="#262626" stroke="#262626" stroke-width="0.2">20%</text>
<rect x="35.60" y="935.61" width="648.75" height="1.1" fill="#D9D9D9"/>
<text x="5.97" y="939.57" font-size="10.2" textLength="19.47" lengthAdjust="spacingAndGlyphs" fill="#262626" stroke="#262626" stroke-width="0.2">40%</text>
<rect x="35.60" y="880.29" width="648.75" height="1.1" fill="#D9D9D9"/>
<text x="5.70" y="884.25" font-size="10.2" textLength="19.76" lengthAdjust="spacingAndGlyphs" fill="#262626" stroke="#262626" stroke-width="0.2">60%</text>
<rect x="35.60" y="824.97" width="648.75" height="1.1" fill="#D9D9D9"/>
<text x="5.77" y="828.93" font-size="10.2" textLength="19.68" lengthAdjust="spacingAndGlyphs" fill="#262626" stroke="#262626" stroke-width="0.2">80%</text>
<rect x="35.60" y="769.65" width="648.75" height="1.1" fill="#D9D9D9"/>
<text x="0.16" y="773.61" font-size="10.2" textLength="25.30" lengthAdjust="spacingAndGlyphs" fill="#262626" stroke="#262626" stroke-width="0.2">100%</text>
<rect x="38.10" y="874.20" width="2.5" height="172.60" fill="#4472C4"/>
<rect x="41.32" y="894.95" width="2.5" height="151.85" fill="#ED7D31"/>
<rect x="44.54" y="892.46" width="2.5" height="154.34" fill="#A5A5A5"/>
<rect x="47.76" y="885.27" width="2.5" height="161.53" fill="#FFC000"/>
<rect x="50.98" y="924.27" width="2.5" height="122.53" fill="#5B9BD5"/>
<rect x="54.20" y="914.86" width="2.5" height="131.94" fill="#70AD47"/>
<rect x="57.42" y="1013.33" width="2.5" height="33.47" fill="#264478"/>
<rect x="60.64" y="770.20" width="2.5" height="276.60" fill="#9E480E"/>
<rect x="63.86" y="770.20" width="2.5" height="276.60" fill="#636363"/>
<rect x="67.08" y="1008.08" width="2.5" height="38.72" fill="#997300"/>
<rect x="70.30" y="835.48" width="2.5" height="211.32" fill="#255E91"/>
<rect x="73.52" y="995.35" width="2.5" height="51.45" fill="#43682B"/>
<rect x="81.35" y="1014.44" width="2.5" height="32.36" fill="#4472C4"/>
<rect x="84.57" y="987.88" width="2.5" height="58.92" fill="#ED7D31"/>
<rect x="87.79" y="1030.20" width="2.5" height="16.60" fill="#A5A5A5"/>
<rect x="91.01" y="932.29" width="2.5" height="114.51" fill="#FFC000"/>
<rect x="94.23" y="975.44" width="2.5" height="71.36" fill="#5B9BD5"/>
<rect x="97.45" y="947.22" width="2.5" height="99.58" fill="#70AD47"/>
<rect x="100.67" y="1015.27" width="2.5" height="31.53" fill="#264478"/>
<rect x="110.33" y="942.80" width="2.5" height="104.00" fill="#997300"/>
<rect x="113.55" y="1036.29" width="2.5" height="10.51" fill="#255E91"/>
<rect x="116.77" y="1039.06" width="2.5" height="7.74" fill="#43682B"/>
<rect x="124.60" y="1009.18" width="2.5" height="37.62" fill="#4472C4"/>
<rect x="127.82" y="1005.31" width="2.5" height="41.49" fill="#ED7D31"/>
<rect x="131.04" y="984.29" width="2.5" height="62.51" fill="#A5A5A5"/>
<rect x="137.48" y="1009.18" width="2.5" height="37.62" fill="#5B9BD5"/>
<rect x="140.70" y="1003.37" width="2.5" height="43.43" fill="#70AD47"/>
<rect x="143.92" y="952.20" width="2.5" height="94.60" fill="#264478"/>
<rect x="153.58" y="1018.31" width="2.5" height="28.49" fill="#997300"/>
<rect x="156.80" y="1043.76" width="2.5" height="3.04" fill="#255E91"/>
<rect x="160.02" y="943.35" width="2.5" height="103.45" fill="#43682B"/>
<rect x="167.85" y="1032.69" width="2.5" height="14.11" fill="#4472C4"/>
<rect x="171.07" y="1039.61" width="2.5" height="7.19" fill="#ED7D31"/>
<rect x="174.29" y="1024.12" width="2.5" height="22.68" fill="#A5A5A5"/>
<rect x="180.73" y="1007.80" width="2.5" height="39.00" fill="#5B9BD5"/>
<rect x="187.17" y="1000.61" width="2.5" height="46.19" fill="#264478"/>
<rect x="196.83" y="962.71" width="2.5" height="84.09" fill="#997300"/>
<rect x="200.05" y="1005.86" width="2.5" height="40.94" fill="#255E91"/>
<rect x="203.27" y="982.35" width="2.5" height="64.45" fill="#43682B"/>
<rect x="211.10" y="1029.93" width="2.5" height="16.87" fill="#4472C4"/>
<rect x="214.32" y="1033.52" width="2.5" height="13.28" fill="#ED7D31"/>
<rect x="217.54" y="1030.20" width="2.5" height="16.60" fill="#A5A5A5"/>
<rect x="223.98" y="1043.76" width="2.5" height="3.04" fill="#5B9BD5"/>
<rect x="230.42" y="979.59" width="2.5" height="67.21" fill="#264478"/>
<rect x="240.08" y="1029.37" width="2.5" height="17.43" fill="#997300"/>
<rect x="243.30" y="1039.33" width="2.5" height="7.47" fill="#255E91"/>
<rect x="246.52" y="1000.05" width="2.5" height="46.75" fill="#43682B"/>
<rect x="254.35" y="880.01" width="2.5" height="166.79" fill="#4472C4"/>
<rect x="257.57" y="898.82" width="2.5" height="147.98" fill="#ED7D31"/>
<rect x="260.79" y="898.82" width="2.5" height="147.98" fill="#A5A5A5"/>
<rect x="264.01" y="921.78" width="2.5" height="125.02" fill="#FFC000"/>
<rect x="267.23" y="912.93" width="2.5" height="133.87" fill="#5B9BD5"/>
<rect x="270.45" y="902.69" width="2.5" height="144.11" fill="#70AD47"/>
<rect x="273.67" y="989.27" width="2.5" height="57.53" fill="#264478"/>
<rect x="276.89" y="770.20" width="2.5" height="276.60" fill="#9E480E"/>
<rect x="280.11" y="770.20" width="2.5" height="276.60" fill="#636363"/>
<rect x="283.33" y="972.39" width="2.5" height="74.41" fill="#997300"/>
<rect x="286.55" y="823.31" width="2.5" height="223.49" fill="#255E91"/>
<rect x="289.77" y="916.80" width="2.5" height="130.00" fill="#43682B"/>
<rect x="297.60" y="1014.99" width="2.5" height="31.81" fill="#4472C4"/>
<rect x="300.82" y="981.80" width="2.5" height="65.00" fill="#ED7D31"/>
<rect x="304.04" y="1028.27" width="2.5" height="18.53" fill="#A5A5A5"/>
<rect x="307.26" y="896.05" width="2.5" height="150.75" fill="#FFC000"/>
<rect x="310.48" y="981.80" width="2.5" height="65.00" fill="#5B9BD5"/>
<rect x="313.70" y="967.14" width="2.5" height="79.66" fill="#70AD47"/>
<rect x="316.92" y="1011.12" width="2.5" height="35.68" fill="#264478"/>
<rect x="326.58" y="968.25" width="2.5" height="78.55" fill="#997300"/>
<rect x="333.02" y="1043.48" width="2.5" height="3.32" fill="#43682B"/>
<rect x="340.85" y="1020.80" width="2.5" height="26.00" fill="#4472C4"/>
<rect x="344.07" y="1012.22" width="2.5" height="34.57" fill="#ED7D31"/>
<rect x="347.29" y="997.57" width="2.5" height="49.23" fill="#A5A5A5"/>
<rect x="353.73" y="1014.99" width="2.5" height="31.81" fill="#5B9BD5"/>
<rect x="356.95" y="995.35" width="2.5" height="51.45" fill="#70AD47"/>
<rect x="360.17" y="981.80" width="2.5" height="65.00" fill="#264478"/>
<rect x="373.05" y="1040.16" width="2.5" height="6.64" fill="#255E91"/>
<rect x="376.27" y="959.12" width="2.5" height="87.68" fill="#43682B"/>
<rect x="384.10" y="1034.35" width="2.5" height="12.45" fill="#4472C4"/>
<rect x="387.32" y="1039.88" width="2.5" height="6.91" fill="#ED7D31"/>
<rect x="390.54" y="1023.57" width="2.5" height="23.23" fill="#A5A5A5"/>
<rect x="396.98" y="1006.97" width="2.5" height="39.83" fill="#5B9BD5"/>
<rect x="403.42" y="1030.20" width="2.5" height="16.60" fill="#264478"/>
<rect x="413.08" y="945.56" width="2.5" height="101.24" fill="#997300"/>
<rect x="416.30" y="1010.84" width="2.5" height="35.96" fill="#255E91"/>
<rect x="419.52" y="1041.82" width="2.5" height="4.98" fill="#43682B"/>
<rect x="427.35" y="1010.57" width="2.5" height="36.23" fill="#4472C4"/>
<rect x="430.57" y="1027.16" width="2.5" height="19.64" fill="#ED7D31"/>
<rect x="433.79" y="1012.50" width="2.5" height="34.30" fill="#A5A5A5"/>
<rect x="440.23" y="1043.48" width="2.5" height="3.32" fill="#5B9BD5"/>
<rect x="446.67" y="948.05" width="2.5" height="98.75" fill="#264478"/>
<rect x="456.33" y="1026.61" width="2.5" height="20.19" fill="#997300"/>
<rect x="459.55" y="1038.78" width="2.5" height="8.02" fill="#255E91"/>
<rect x="462.77" y="998.67" width="2.5" height="48.13" fill="#43682B"/>
<rect x="470.60" y="870.05" width="2.5" height="176.75" fill="#4472C4"/>
<rect x="473.82" y="887.75" width="2.5" height="159.04" fill="#ED7D31"/>
<rect x="477.04" y="902.41" width="2.5" height="144.39" fill="#A5A5A5"/>
<rect x="480.26" y="966.86" width="2.5" height="79.94" fill="#FFC000"/>
<rect x="483.48" y="919.84" width="2.5" height="126.96" fill="#5B9BD5"/>
<rect x="486.70" y="888.86" width="2.5" height="157.94" fill="#70AD47"/>
<rect x="489.92" y="961.33" width="2.5" height="85.47" fill="#264478"/>
<rect x="493.14" y="770.20" width="2.5" height="276.60" fill="#9E480E"/>
<rect x="496.36" y="777.67" width="2.5" height="269.13" fill="#636363"/>
<rect x="499.58" y="964.10" width="2.5" height="82.70" fill="#997300"/>
<rect x="502.80" y="832.71" width="2.5" height="214.09" fill="#255E91"/>
<rect x="506.02" y="889.97" width="2.5" height="156.83" fill="#43682B"/>
<rect x="513.85" y="1018.31" width="2.5" height="28.49" fill="#4472C4"/>
<rect x="517.07" y="982.35" width="2.5" height="64.45" fill="#ED7D31"/>
<rect x="520.29" y="1025.78" width="2.5" height="21.02" fill="#A5A5A5"/>
<rect x="523.51" y="850.97" width="2.5" height="195.83" fill="#FFC000"/>
<rect x="526.73" y="972.39" width="2.5" height="74.41" fill="#5B9BD5"/>
<rect x="529.95" y="980.42" width="2.5" height="66.38" fill="#70AD47"/>
<rect x="533.17" y="1004.48" width="2.5" height="42.32" fill="#264478"/>
<rect x="539.61" y="1039.61" width="2.5" height="7.19" fill="#636363"/>
<rect x="542.83" y="974.33" width="2.5" height="72.47" fill="#997300"/>
<rect x="546.05" y="1046.25" width="2.5" height="0.55" fill="#255E91"/>
<rect x="557.10" y="1027.16" width="2.5" height="19.64" fill="#4472C4"/>
<rect x="560.32" y="1021.35" width="2.5" height="25.45" fill="#ED7D31"/>
<rect x="563.54" y="1001.16" width="2.5" height="45.64" fill="#A5A5A5"/>
<rect x="569.98" y="1024.95" width="2.5" height="21.85" fill="#5B9BD5"/>
<rect x="573.20" y="995.35" width="2.5" height="51.45" fill="#70AD47"/>
<rect x="576.42" y="1011.12" width="2.5" height="35.68" fill="#264478"/>
<rect x="586.08" y="1043.76" width="2.5" height="3.04" fill="#997300"/>
<rect x="589.30" y="1044.59" width="2.5" height="2.21" fill="#255E91"/>
<rect x="592.52" y="1000.33" width="2.5" height="46.47" fill="#43682B"/>
<rect x="600.35" y="1034.91" width="2.5" height="11.89" fill="#4472C4"/>
<rect x="603.57" y="1037.95" width="2.5" height="8.85" fill="#ED7D31"/>
<rect x="606.79" y="1028.27" width="2.5" height="18.53" fill="#A5A5A5"/>
<rect x="613.23" y="998.12" width="2.5" height="48.68" fill="#5B9BD5"/>
<rect x="619.67" y="1038.78" width="2.5" height="8.02" fill="#264478"/>
<rect x="629.33" y="961.05" width="2.5" height="85.75" fill="#997300"/>
<rect x="632.55" y="1000.33" width="2.5" height="46.47" fill="#255E91"/>
<rect x="635.77" y="1033.80" width="2.5" height="13.00" fill="#43682B"/>
<rect x="643.60" y="1010.57" width="2.5" height="36.23" fill="#4472C4"/>
<rect x="646.82" y="1030.48" width="2.5" height="16.32" fill="#ED7D31"/>
<rect x="650.04" y="1003.10" width="2.5" height="43.70" fill="#A5A5A5"/>
<rect x="656.48" y="1045.14" width="2.5" height="1.66" fill="#5B9BD5"/>
<rect x="662.92" y="945.29" width="2.5" height="101.51" fill="#264478"/>
<rect x="672.58" y="1018.03" width="2.5" height="28.77" fill="#997300"/>
<rect x="675.80" y="1036.57" width="2.5" height="10.23" fill="#255E91"/>
<rect x="679.02" y="989.27" width="2.5" height="57.53" fill="#43682B"/>
<rect x="35.05" y="1046.80" width="1.1" height="58.00" fill="#D9D9D9"/>
<rect x="251.30" y="1046.80" width="1.1" height="58.00" fill="#D9D9D9"/>
<rect x="467.55" y="1046.80" width="1.1" height="58.00" fill="#D9D9D9"/>
<rect x="683.80" y="1046.80" width="1.1" height="58.00" fill="#D9D9D9"/>
<text x="35.67" y="1065.56" font-size="10.2" textLength="43.10" lengthAdjust="spacingAndGlyphs" fill="#262626" stroke="#262626" stroke-width="0.2">0 to 5000</text>
<text x="82.80" y="1065.56" font-size="10.2" textLength="35.37" lengthAdjust="spacingAndGlyphs" fill="#262626" stroke="#262626" stroke-width="0.2">5001 to</text>
<text x="86.08" y="1078.71" font-size="10.2" textLength="28.41" lengthAdjust="spacingAndGlyphs" fill="#262626" stroke="#262626" stroke-width="0.2">10000</text>
<text x="123.00" y="1065.56" font-size="10.2" textLength="41.08" lengthAdjust="spacingAndGlyphs" fill="#262626" stroke="#262626" stroke-width="0.2">10001 to</text>
<text x="129.22" y="1078.71" font-size="10.2" textLength="28.63" lengthAdjust="spacingAndGlyphs" fill="#262626" stroke="#262626" stroke-width="0.2">15000</text>
<text x="166.42" y="1065.56" font-size="10.2" textLength="40.75" lengthAdjust="spacingAndGlyphs" fill="#262626" stroke="#262626" stroke-width="0.2">15001 to</text>
<text x="172.79" y="1078.71" font-size="10.2" textLength="28.25" lengthAdjust="spacingAndGlyphs" fill="#262626" stroke="#262626" stroke-width="0.2">20000</text>
<text x="219.63" y="1065.56" font-size="10.2" textLength="20.92" lengthAdjust="spacingAndGlyphs" fill="#262626" stroke="#262626" stroke-width="0.2">over</text>
<text x="215.93" y="1078.71" font-size="10.2" textLength="28.57" lengthAdjust="spacingAndGlyphs" fill="#262626" stroke="#262626" stroke-width="0.2">20001</text>
<text x="251.92" y="1065.56" font-size="10.2" textLength="43.10" lengthAdjust="spacingAndGlyphs" fill="#262626" stroke="#262626" stroke-width="0.2">0 to 5000</text>
<text x="299.05" y="1065.56" font-size="10.2" textLength="35.37" lengthAdjust="spacingAndGlyphs" fill="#262626" stroke="#262626" stroke-width="0.2">5001 to</text>
<text x="302.33" y="1078.71" font-size="10.2" textLength="28.41" lengthAdjust="spacingAndGlyphs" fill="#262626" stroke="#262626" stroke-width="0.2">10000</text>
<text x="339.25" y="1065.56" font-size="10.2" textLength="41.08" lengthAdjust="spacingAndGlyphs" fill="#262626" stroke="#262626" stroke-width="0.2">10001 to</text>
<text x="345.47" y="1078.71" font-size="10.2" textLength="28.63" lengthAdjust="spacingAndGlyphs" fill="#262626" stroke="#262626" stroke-width="0.2">15000</text>
<text x="382.67" y="1065.56" font-size="10.2" textLength="40.75" lengthAdjust="spacingAndGlyphs" fill="#262626" stroke="#262626" stroke-width="0.2">15001 to</text>
<text x="389.04" y="1078.71" font-size="10.2" textLength="28.25" lengthAdjust="spacingAndGlyphs" fill="#262626" stroke="#262626" stroke-width="0.2">20000</text>
<text x="435.88" y="1065.56" font-size="10.2" textLength="20.92" lengthAdjust="spacingAndGlyphs" fill="#262626" stroke="#262626" stroke-width="0.2">over</text>
<text x="432.18" y="1078.71" font-size="10.2" textLength="28.57" lengthAdjust="spacingAndGlyphs" fill="#262626" stroke="#262626" stroke-width="0.2">20001</text>
<text x="468.17" y="1065.56" font-size="10.2" textLength="43.10" lengthAdjust="spacingAndGlyphs" fill="#262626" stroke="#262626" stroke-width="0.2">0 to 5000</text>
<text x="515.30" y="1065.56" font-size="10.2" textLength="35.37" lengthAdjust="spacingAndGlyphs" fill="#262626" stroke="#262626" stroke-width="0.2">5001 to</text>
<text x="518.58" y="1078.71" font-size="10.2" textLength="28.41" lengthAdjust="spacingAndGlyphs" fill="#262626" stroke="#262626" stroke-width="0.2">10000</text>
<text x="555.50" y="1065.56" font-size="10.2" textLength="41.08" lengthAdjust="spacingAndGlyphs" fill="#262626" stroke="#262626" stroke-width="0.2">10001 to</text>
<text x="561.72" y="1078.71" font-size="10.2" textLength="28.63" lengthAdjust="spacingAndGlyphs" fill="#262626" stroke="#262626" stroke-width="0.2">15000</text>
<text x="598.92" y="1065.56" font-size="10.2" textLength="40.75" lengthAdjust="spacingAndGlyphs" fill="#262626" stroke="#262626" stroke-width="0.2">15001 to</text>
<text x="605.29" y="1078.71" font-size="10.2" textLength="28.25" lengthAdjust="spacingAndGlyphs" fill="#262626" stroke="#262626" stroke-width="0.2">20000</text>
<text x="652.13" y="1065.56" font-size="10.2" textLength="20.92" lengthAdjust="spacingAndGlyphs" fill="#262626" stroke="#262626" stroke-width="0.2">over</text>
<text x="648.43" y="1078.71" font-size="10.2" textLength="28.57" lengthAdjust="spacingAndGlyphs" fill="#262626" stroke="#262626" stroke-width="0.2">20001</text>
<text x="131.98" y="1100.81" font-size="10.2" textLength="23.41" lengthAdjust="spacingAndGlyphs" fill="#262626" stroke="#262626" stroke-width="0.2">2018</text>
<text x="348.23" y="1100.81" font-size="10.2" textLength="23.46" lengthAdjust="spacingAndGlyphs" fill="#262626" stroke="#262626" stroke-width="0.2">2019</text>
<text x="564.48" y="1100.81" font-size="10.2" textLength="23.37" lengthAdjust="spacingAndGlyphs" fill="#262626" stroke="#262626" stroke-width="0.2">2020</text>
<rect x="128.10" y="1125.60" width="5.7" height="5.7" fill="#4472C4"/>
<text x="135.94" y="1131.52" font-size="9.5" textLength="49.19" lengthAdjust="spacingAndGlyphs" fill="#262626" stroke="#262626" stroke-width="0.2">Rotterdam</text>
<rect x="202.50" y="1125.60" width="5.7" height="5.7" fill="#ED7D31"/>
<text x="211.38" y="1131.52" font-size="9.5" textLength="38.91" lengthAdjust="spacingAndGlyphs" fill="#262626" stroke="#262626" stroke-width="0.2">Antwerp</text>
<rect x="276.90" y="1125.60" width="5.7" height="5.7" fill="#A5A5A5"/>
<text x="284.75" y="1131.52" font-size="9.5" textLength="42.75" lengthAdjust="spacingAndGlyphs" fill="#262626" stroke="#262626" stroke-width="0.2">Hamburg</text>
<rect x="351.60" y="1125.60" width="5.7" height="5.7" fill="#FFC000"/>
<text x="359.25" y="1131.52" font-size="9.5" textLength="62.40" lengthAdjust="spacingAndGlyphs" fill="#262626" stroke="#262626" stroke-width="0.2">Bremerhaven</text>
<rect x="426.20" y="1125.60" width="5.7" height="5.7" fill="#5B9BD5"/>
<text x="434.10" y="1131.52" font-size="9.5" textLength="39.80" lengthAdjust="spacingAndGlyphs" fill="#262626" stroke="#262626" stroke-width="0.2">Le Havre</text>
<rect x="500.40" y="1125.60" width="5.7" height="5.7" fill="#70AD47"/>
<text x="508.56" y="1131.52" font-size="9.5" textLength="34.30" lengthAdjust="spacingAndGlyphs" fill="#262626" stroke="#262626" stroke-width="0.2">London</text>
<rect x="128.10" y="1151.50" width="5.7" height="5.7" fill="#264478"/>
<text x="135.96" y="1157.42" font-size="9.5" textLength="48.39" lengthAdjust="spacingAndGlyphs" fill="#262626" stroke="#262626" stroke-width="0.2">Felixstowe</text>
<rect x="202.50" y="1151.50" width="5.7" height="5.7" fill="#9E480E"/>
<text x="210.54" y="1157.42" font-size="9.5" textLength="29.62" lengthAdjust="spacingAndGlyphs" fill="#262626" stroke="#262626" stroke-width="0.2">Dublin</text>
<rect x="276.90" y="1151.50" width="5.7" height="5.7" fill="#636363"/>
<text x="284.73" y="1157.42" font-size="9.5" textLength="43.13" lengthAdjust="spacingAndGlyphs" fill="#262626" stroke="#262626" stroke-width="0.2">Liverpool</text>
<rect x="351.60" y="1151.50" width="5.7" height="5.7" fill="#997300"/>
<text x="359.62" y="1157.42" font-size="9.5" textLength="62.24" lengthAdjust="spacingAndGlyphs" fill="#262626" stroke="#262626" stroke-width="0.2">Southampton</text>
<rect x="426.20" y="1151.50" width="5.7" height="5.7" fill="#255E91"/>
<text x="434.04" y="1157.42" font-size="9.5" textLength="35.45" lengthAdjust="spacingAndGlyphs" fill="#262626" stroke="#262626" stroke-width="0.2">Dunkirk</text>
<rect x="500.40" y="1151.50" width="5.7" height="5.7" fill="#43682B"/>
<text x="509.08" y="1157.42" font-size="9.5" textLength="48.29" lengthAdjust="spacingAndGlyphs" fill="#262626" stroke="#262626" stroke-width="0.2">Zeebrugge</text>
<text x="5.38" y="18.2" font-family="Liberation Serif, serif" font-weight="bold" font-size="21.5" textLength="11.18" lengthAdjust="spacingAndGlyphs" fill="#000">a</text>
<text x="5.6" y="369.6" font-family="Liberation Serif, serif" font-weight="bold" font-size="21.5" fill="#000">b</text>
<text x="5.27" y="754.6" font-family="Liberation Serif, serif" font-weight="bold" font-size="21.5" textLength="10.73" lengthAdjust="spacingAndGlyphs" fill="#000">c</text>
</svg>
</body></html>
